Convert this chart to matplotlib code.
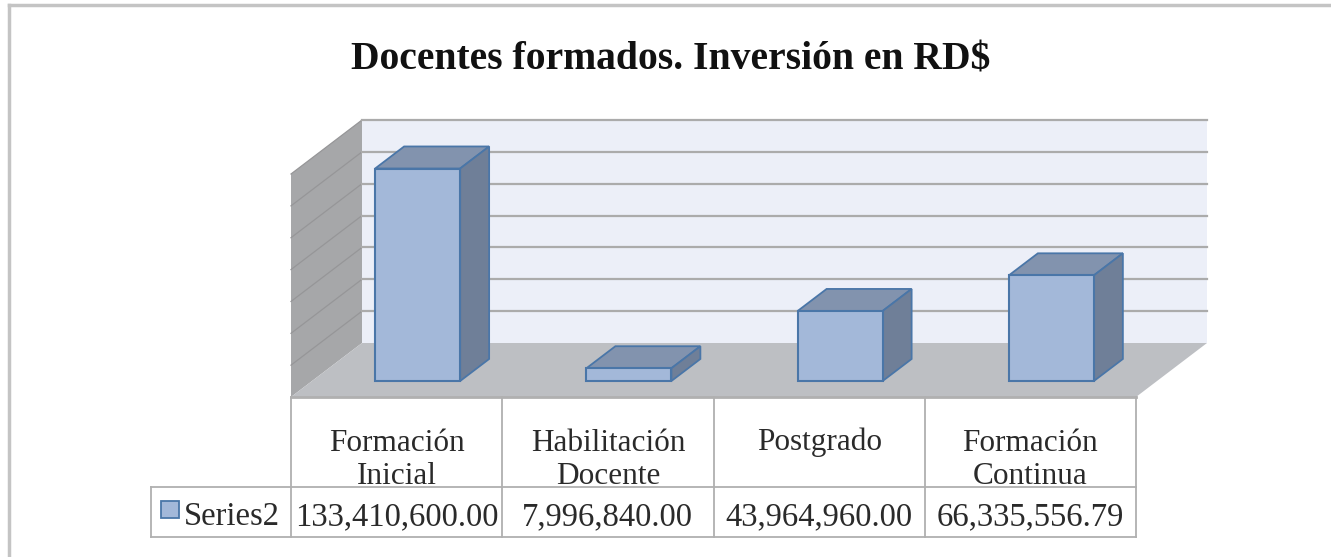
import matplotlib
matplotlib.use('Agg')
from matplotlib import pyplot as plt
from matplotlib.patches import Polygon, Rectangle
import numpy as np

plt.rcParams['font.family'] = ['Liberation Serif', 'DejaVu Serif']

title = 'Docentes formados. Inversión en RD$'
categories = ['Formación\nInicial', 'Habilitación\nDocente', 'Postgrado', 'Formación\nContinua']
values = [133410600.00, 7996840.00, 43964960.00, 66335556.79]
value_labels = ['133,410,600.00', '7,996,840.00', '43,964,960.00', '66,335,556.79']
series_name = 'Series2'
y_ticks = [0, 20e6, 40e6, 60e6, 80e6, 100e6, 120e6, 140e6]

W, H = 1331, 557
fig = plt.figure(figsize=(W / 100, H / 100), dpi=100)
fig.patch.set_facecolor('white')

# picture frame, open on the right
fig.add_artist(plt.Line2D([9 / W, 9 / W], [0, 1 - 5 / H], color='#c4c4c4', lw=2.5))
fig.add_artist(plt.Line2D([9 / W, 1], [1 - 5 / H, 1 - 5 / H], color='#c4c4c4', lw=2.5))

fig.text(671 / W, 1 - 60 / H, title, ha='center', va='center', fontsize=28.5, fontweight='bold',
         color='#111111')

# axes = the front plane of the 3D box
ax = fig.add_axes([291 / W, (H - 397) / H, 845 / W, 223 / H])
ax.set_xlim(0, 4)
ax.set_ylim(0, 140e6)
ax.axis('off')

px_x = 4 / 845
px_y = 140e6 / 223


def pt(x, y, d=0.0):
    # shift along the depth of the box, d from 0 (front) to 1 (back)
    return (x + d * 71 * px_x, y + d * 54 * px_y)


def below(px):
    # value position of a pixel row under the floor edge
    return -px * px_y


top = y_ticks[-1]
ax.add_patch(Polygon([pt(0, 0, 1), pt(4, 0, 1), pt(4, top, 1), pt(0, top, 1)],
                     fc='#eceff8', ec='none', zorder=1, clip_on=False))
ax.add_patch(Polygon([pt(0, 0, 0), pt(0, 0, 1), pt(0, top, 1), pt(0, top, 0)],
                     fc='#a6a7a9', ec='none', zorder=1, clip_on=False))
ax.add_patch(Polygon([pt(0, 0, 0), pt(4, 0, 0), pt(4, 0, 1), pt(0, 0, 1)],
                     fc='#bdbfc3', ec='none', zorder=2, clip_on=False))

for t in y_ticks[1:]:
    a, b = pt(0, t, 0), pt(0, t, 1)
    ax.plot([a[0], b[0]], [a[1], b[1]], color='#969698', lw=0.9, zorder=2, clip_on=False)
    c = pt(4, t, 1)
    ax.plot([b[0], c[0]], [b[1], c[1]], color='#ababab', lw=1.6, zorder=2, clip_on=False)

# bars
bar_w = 85 * px_x
d0, d1 = 21 / 71, 50 / 71
edge = '#4a76a8'
xs = np.arange(len(values)) + 0.5
base = pt(0, 0, d0)
ax.bar(xs + base[0], values, bar_w, bottom=base[1], color='#a3b8d9', edgecolor=edge,
       lw=1.5, zorder=5, clip_on=False)
for x, v in zip(xs, values):
    l, r = x - bar_w / 2, x + bar_w / 2
    ax.add_patch(Polygon([pt(l, v, d0), pt(r, v, d0), pt(r, v, d1), pt(l, v, d1)],
                         fc='#8293ae', ec=edge, lw=1.3, zorder=4, clip_on=False))
    ax.add_patch(Polygon([pt(r, 0, d0), pt(r, 0, d1), pt(r, v, d1), pt(r, v, d0)],
                         fc='#6f7f98', ec=edge, lw=1.3, zorder=4, clip_on=False))

# data table
grid_c = '#b0b0b0'
row0, row1, row2 = below(0), below(90), below(140)
left = -140 * px_x
for i in range(5):
    ax.plot([i, i], [row0, row2], color=grid_c, lw=1.3, zorder=3, clip_on=False)
ax.plot([0, 4], [row0, row0], color=grid_c, lw=2, zorder=3, clip_on=False)
ax.plot([left, 4], [row1, row1], color=grid_c, lw=1.3, zorder=7, clip_on=False)
ax.plot([left, 4], [row2, row2], color=grid_c, lw=1.3, zorder=3, clip_on=False)
ax.plot([left, left], [row1, row2], color=grid_c, lw=1.3, zorder=3, clip_on=False)

for i, (c, vl) in enumerate(zip(categories, value_labels)):
    txt = ax.text(i + 0.5, below(45 if '\n' not in c else 63), c, ha='center', va='center',
                  fontsize=22.5, linespacing=1.22, color='#2a2a2a', zorder=6, clip_on=False)
    # second line runs under the table rule, as in the original
    txt.set_clip_path(Rectangle((i, row1), 1, row0 - row1, transform=ax.transData))
    ax.text(i + 0.5, below(120), vl, ha='center', va='center', fontsize=23.5,
            color='#2a2a2a', zorder=6, clip_on=False)

ax.add_patch(Rectangle((-130 * px_x, below(121)), 18 * px_x, 17 * px_y, fc='#a3b8d9',
                       ec=edge, lw=1.3, zorder=6, clip_on=False))
ax.text(-107 * px_x, below(120), series_name, ha='left', va='center', fontsize=23.5,
        color='#2a2a2a', zorder=6, clip_on=False)

fig.savefig('out.png', dpi=100)
